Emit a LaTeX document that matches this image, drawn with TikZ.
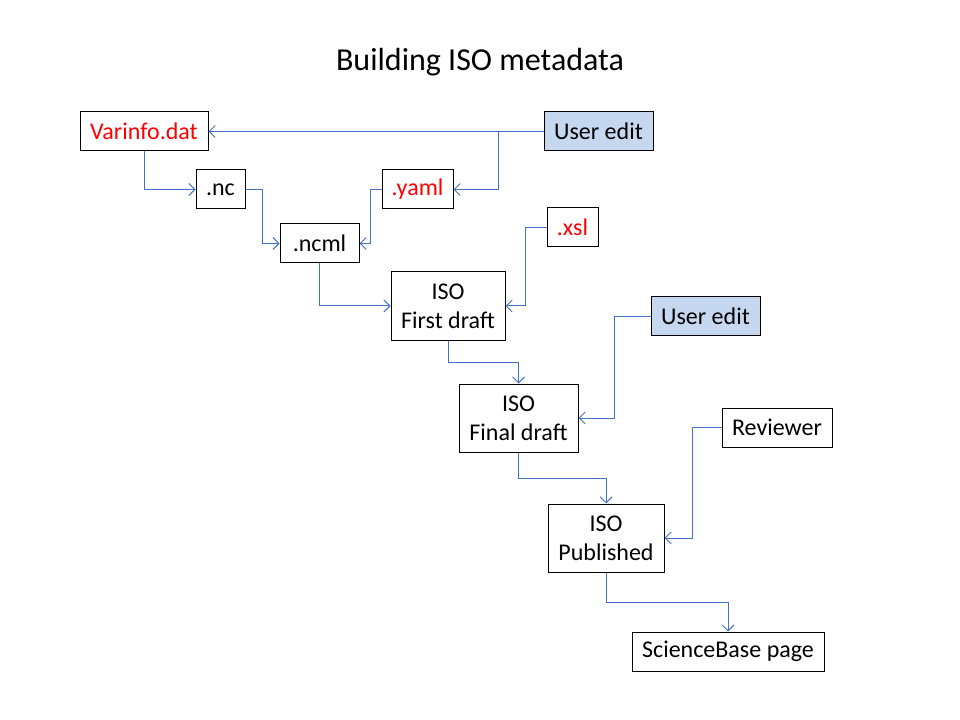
\documentclass[tikz,border=0pt]{standalone}
\usepackage{fontspec}
\setmainfont{Carlito}
\usetikzlibrary{arrows.meta}
\definecolor{lineblue}{HTML}{4472C4}
\definecolor{fillblue}{HTML}{C5D8EF}
\definecolor{txtred}{HTML}{FF0000}
\begin{document}
\begin{tikzpicture}[x=0.75pt,y=-0.75pt,
  box/.style={draw=black,line width=0.75pt,inner sep=0pt,align=center,
    font=\fontsize{18}{21.6}\selectfont,minimum height=29.25pt},
  userbox/.style={box,fill=fillblue},
  redtxt/.style={text=txtred},
  conn/.style={draw=lineblue,line width=0.75pt,-{Straight Barb[length=4.5pt,width=9pt]}}]
\useasboundingbox (0,0) rectangle (960,720);
\node[font=\fontsize{24}{28.8}\selectfont] (title) at (480,62) {Building ISO metadata};
\node[box,redtxt,minimum width=96pt] (vi) at (144,131.5) {Varinfo.dat};
\node[userbox,minimum width=81.75pt] (ue1) at (598.5,131.5) {User edit};
\node[box,minimum width=36.75pt] (nc) at (220.5,189.5) {.nc};
\node[box,redtxt,minimum width=53.25pt] (yaml) at (417.5,189.5) {.yaml};
\node[box,minimum width=59.25pt] (ncml) at (319.5,243.5) {.ncml};
\node[box,redtxt,minimum width=38.25pt] (xsl) at (572.5,227.5) {.xsl};
\node[box,minimum width=85.5pt,minimum height=51pt] (fd) at (448,306) {ISO\\First draft};
\node[userbox,minimum width=81.75pt,minimum height=28.5pt] (ue2) at (705.5,316) {User edit};
\node[box,minimum width=89.25pt,minimum height=51pt] (final) at (518.5,418) {ISO\\Final draft};
\node[box,minimum width=82.5pt] (rev) at (777,427.5) {Reviewer};
\node[box,minimum width=87pt,minimum height=51pt] (pub) at (606,538) {ISO\\Published};
\node[box,minimum width=144pt] (sb) at (728,651.5) {ScienceBase page};
\draw[conn] (ue1.west) -- (vi.east);
\draw[conn] (ue1.west) -- ++(-45,0) |- (yaml.east);
\draw[conn] (vi.south) |- (nc.west);
\draw[conn] (nc.east) -- ++(17,0) |- (ncml.west);
\draw[conn] (yaml.west) -- ++(-11,0) |- (ncml.east);
\draw[conn] (ncml.south) |- (fd.west);
\draw[conn] (xsl.west) -- ++(-21,0) |- (fd.east);
\draw[conn] (fd.south) -- ++(0,22) -| (final.north);
\draw[conn] (ue2.west) -- ++(-36,0) |- (final.east);
\draw[conn] (final.south) -- ++(0,26) -| (pub.north);
\draw[conn] (rev.west) -- ++(-29,0) |- (pub.east);
\draw[conn] (pub.south) -- ++(0,30) -| (sb.north);
\end{tikzpicture}
\end{document}
